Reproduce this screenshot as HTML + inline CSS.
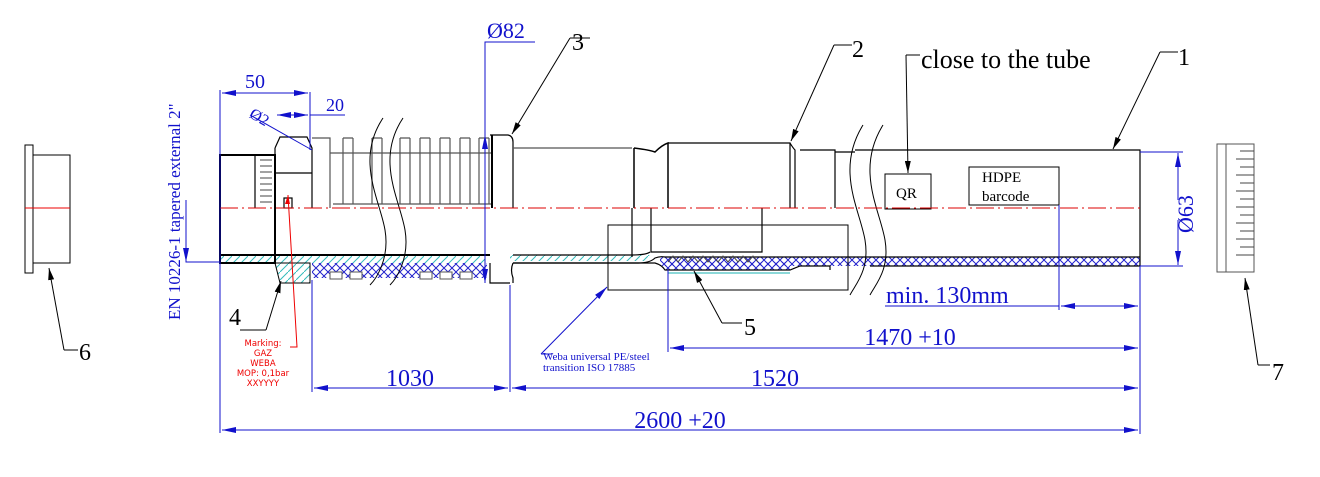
<!DOCTYPE html>
<html><head><meta charset="utf-8"><style>
html,body{margin:0;padding:0;background:#fff;}
svg{display:block;}
text{font-family:"Liberation Serif",serif;}
text.mk{font-family:"DejaVu Sans",sans-serif;}
</style></head><body>
<svg width="1320" height="477" viewBox="0 0 1320 477" xmlns="http://www.w3.org/2000/svg">
<defs>
<pattern id="xh" width="8" height="8" patternUnits="userSpaceOnUse">
<path d="M0 0L8 8M8 0L0 8" stroke="#2222cc" stroke-width="1"/>
</pattern>
<pattern id="cy" width="8" height="8" patternUnits="userSpaceOnUse">
<path d="M0 8L8 0" stroke="#33bbbb" stroke-width="1"/>
</pattern>
<marker id="ab" markerWidth="14" markerHeight="6" refX="14" refY="3" orient="auto" markerUnits="userSpaceOnUse">
<path d="M0 0L14 3L0 6z" fill="#1111cc"/></marker>
<marker id="ak" markerWidth="12" markerHeight="6" refX="12" refY="3" orient="auto" markerUnits="userSpaceOnUse">
<path d="M0 0L12 3L0 6z" fill="#000"/></marker>
</defs>

<!-- part 6 -->
<g fill="none" stroke="#000" stroke-width="1">
<rect x="25" y="145" width="8" height="128"/>
<rect x="33" y="155" width="37" height="108"/>
</g>
<line x1="25" y1="208" x2="70" y2="208" stroke="#e00" stroke-width="1"/>
<path d="M64 350H78" stroke="#000" fill="none"/>
<line x1="64" y1="350" x2="49" y2="268" stroke="#000" marker-end="url(#ak)"/>
<text x="79" y="360" font-size="24">6</text>

<!-- part 7 -->
<g fill="none" stroke="#555" stroke-width="1">
<rect x="1217" y="144" width="37" height="128"/>
<line x1="1226" y1="144" x2="1226" y2="272"/>
</g>
<g stroke="#444" stroke-width="1">
<line x1="1240" y1="151" x2="1254" y2="151"/><line x1="1236" y1="159" x2="1254" y2="159"/>
<line x1="1240" y1="167" x2="1254" y2="167"/><line x1="1236" y1="175" x2="1254" y2="175"/>
<line x1="1240" y1="183" x2="1254" y2="183"/><line x1="1236" y1="191" x2="1254" y2="191"/>
<line x1="1240" y1="199" x2="1254" y2="199"/><line x1="1236" y1="207" x2="1254" y2="207"/>
<line x1="1240" y1="215" x2="1254" y2="215"/><line x1="1236" y1="223" x2="1254" y2="223"/>
<line x1="1240" y1="231" x2="1254" y2="231"/><line x1="1236" y1="239" x2="1254" y2="239"/>
<line x1="1240" y1="247" x2="1254" y2="247"/><line x1="1236" y1="255" x2="1254" y2="255"/>
</g>
<path d="M1270 365H1258" stroke="#000" fill="none"/>
<line x1="1258" y1="365" x2="1245" y2="278" stroke="#000" marker-end="url(#ak)"/>
<text x="1272" y="380" font-size="24">7</text>

<!-- hatched bands -->
<rect x="220" y="255" width="90" height="8" fill="url(#cy)"/>
<rect x="310" y="255" width="175" height="8" fill="url(#cy)"/>
<rect x="510" y="255" width="140" height="6" fill="url(#cy)"/>
<rect x="312" y="263" width="175" height="15" fill="url(#xh)"/>
<rect x="660" y="257" width="480" height="9" fill="url(#xh)"/>
<path d="M665 262 L790 262 L790 270 L665 270Z" fill="url(#xh)"/>
<path d="M668 273H790" stroke="#66cccc" stroke-width="1.5"/>
<polygon points="275,263 310,263 310,283 280,283" fill="url(#cy)" stroke="#000"/>
<!-- corrugation notches -->
<g fill="#fff" stroke="#555">
<rect x="330" y="272" width="12" height="7"/><rect x="350" y="272" width="12" height="7"/>
<rect x="420" y="272" width="12" height="7"/><rect x="440" y="272" width="12" height="7"/><rect x="460" y="272" width="12" height="7"/>
</g>

<!-- main drawing lines -->
<g fill="none" stroke="#000" stroke-width="1.2">
<rect x="220" y="155" width="55" height="108" stroke-width="2"/>
<line x1="220" y1="255" x2="490" y2="255" stroke-width="2"/>
<line x1="220" y1="263" x2="275" y2="263" stroke-width="2"/>
<line x1="255" y1="155" x2="255" y2="208"/>
<path d="M275 148 L280 137 L307 137 L312 148 L312 208 M275 148 V208 M275 173 H312"/>
<rect x="284" y="198" width="8" height="10"/>
<path d="M312 138 H330 V208" stroke="#555"/>
<path d="M330 153 H492" stroke="#555"/>
<path d="M333 204 H492" stroke="#555"/>
<g stroke="#555">
<path d="M343 138 V204 M353 138 V204 M353 138 H343"/>
<path d="M372 138 V204 M382 138 V204 M372 138 H382"/>
<path d="M400 138 V204 M410 138 V204 M400 138 H410"/>
<path d="M420 138 V204 M430 138 V204 M420 138 H430"/>
<path d="M440 138 V204 M450 138 V204 M440 138 H450"/>
<path d="M460 138 V204 M470 138 V204 M460 138 H470"/>
<path d="M479 138 V204 M489 138 V204 M479 138 H489"/>
</g>
<path d="M490 135 H508 Q513 136 513 142 V208"/>
<path d="M492 135 V208" stroke-width="2"/>
<path d="M513 148 H632" stroke="#555"/>
<path d="M490 263 V283 H510 M513 263 Q510 270 513 278 V283 M513 263 H640"/>
<path d="M634 148 V208 M634 148 Q650 150 655 152 Q662 145 668 143 V208" stroke-width="1.5"/>
<path d="M668 143 H790 V208 M790 143 Q793 148 795 150 V208 M800 150 H835 V208 M835 152 H855"/>
<path d="M632 208 V257 M651 208 V252 H762 V208" />
<path d="M513 263 H638 Q650 263 655 258 Q660 256 665 257 H1140" />
<path d="M513 255 H632 Q646 255 650 252" />
<path d="M640 263 H655 Q662 265 665 270 H790 L800 266 H830 V270"/>
<path d="M855 150 H1140 V266 M870 266 H1140" />
<rect x="608" y="225" width="240" height="65" stroke-width="1"/>
<rect x="885" y="174" width="46" height="35" stroke-width="1"/>
<rect x="969" y="167" width="90" height="38" stroke-width="1"/>
</g>
<!-- break lines -->
<g fill="none" stroke="#000" stroke-width="1">
<path d="M383 118 C355 160 380 200 385 230 C390 260 375 280 370 285"/>
<path d="M403 118 C375 160 400 200 405 230 C410 260 395 280 390 285"/>
<path d="M863 125 C835 170 860 210 865 240 C870 270 855 285 850 295"/>
<path d="M883 125 C855 170 880 210 885 240 C890 270 875 285 870 295"/>
</g>
<!-- threads -->
<g stroke="#444" stroke-width="1" fill="none">
<path d="M260 160 H272 M260 166 H272 M260 172 H272 M260 178 H272 M260 184 H272 M260 190 H272 M260 196 H272 M260 202 H272"/>
<path d="M668 262 L673 256 L678 262 L683 256 L688 262 L693 256 L698 262 L703 256 L708 262 L713 256 L718 262 L723 256 L728 262 L733 256 L738 262 L743 256 L748 262 L753 256 L758 262"/>
</g>
<!-- centerline -->
<line x1="220" y1="208" x2="1140" y2="208" stroke="#d00" stroke-width="1" stroke-dasharray="18,4,2,4"/>

<!-- leaders -->
<g stroke="#000" fill="none" stroke-width="1">
<path d="M590 38 H570"/><line x1="570" y1="38" x2="512" y2="134" marker-end="url(#ak)"/>
<path d="M852 45 H834"/><line x1="834" y1="45" x2="791" y2="141" marker-end="url(#ak)"/>
<path d="M1178 52 H1160"/><line x1="1160" y1="52" x2="1113" y2="149" marker-end="url(#ak)"/>
<path d="M920 55 H906"/><line x1="906" y1="55" x2="908" y2="173" marker-end="url(#ak)"/>
<path d="M742 323 H722"/><line x1="722" y1="323" x2="694" y2="271" marker-end="url(#ak)"/>
<path d="M240 330 H266"/><line x1="266" y1="330" x2="281" y2="281" marker-end="url(#ak)"/>
</g>
<text x="572" y="50" font-size="24">3</text>
<text x="852" y="57" font-size="24">2</text>
<text x="1178" y="65" font-size="24">1</text>
<text x="921" y="68" font-size="26">close to the tube</text>
<text x="744" y="335" font-size="24">5</text>
<text x="229" y="325" font-size="24">4</text>
<text x="896" y="198" font-size="15">QR</text>
<text x="982" y="182" font-size="15">HDPE</text>
<text x="982" y="201" font-size="15">barcode</text>

<!-- red marking -->
<path d="M288 195 L297 347 H290" stroke="#e00" fill="none"/>
<path d="M288 195 l-3 9 l5 0z" fill="#e00"/>
<g fill="#e00" font-size="8.5" text-anchor="middle">
<text class="mk" x="263" y="346">Marking:</text>
<text class="mk" x="263" y="356">GAZ</text>
<text class="mk" x="263" y="366">WEBA</text>
<text class="mk" x="263" y="376">MOP: 0,1bar</text>
<text class="mk" x="263" y="386">XXYYYY</text>
</g>

<!-- dimensions -->
<g stroke="#1111cc" fill="none" stroke-width="1">
<line x1="220" y1="90" x2="220" y2="433"/>
<line x1="310" y1="92" x2="310" y2="150"/>
<line x1="222" y1="93" x2="308" y2="93" marker-end="url(#ab)"/>
<line x1="308" y1="93" x2="222" y2="93" marker-end="url(#ab)"/>
<line x1="310" y1="115" x2="345" y2="115"/>
<line x1="277" y1="115" x2="308" y2="115" marker-end="url(#ab)"/>
<line x1="308" y1="115" x2="277" y2="115" marker-end="url(#ab)"/>
<path d="M250 115 L312 150"/>
<path d="M535 42 H485 V283"/>
<line x1="485" y1="160" x2="485" y2="135" marker-end="url(#ab)"/>
<line x1="485" y1="260" x2="485" y2="283" marker-end="url(#ab)"/>
<path d="M186 200 V262 H220"/>
<line x1="186" y1="240" x2="186" y2="262" marker-end="url(#ab)"/>
<line x1="312" y1="280" x2="312" y2="392"/>
<line x1="510" y1="285" x2="510" y2="392"/>
<line x1="1140" y1="266" x2="1140" y2="434"/>
<line x1="314" y1="388" x2="508" y2="388" marker-end="url(#ab)"/>
<line x1="508" y1="388" x2="314" y2="388" marker-end="url(#ab)"/>
<line x1="512" y1="388" x2="1138" y2="388" marker-end="url(#ab)"/>
<line x1="1138" y1="388" x2="512" y2="388" marker-end="url(#ab)"/>
<line x1="222" y1="430" x2="1138" y2="430" marker-end="url(#ab)"/>
<line x1="1138" y1="430" x2="222" y2="430" marker-end="url(#ab)"/>
<line x1="668" y1="270" x2="668" y2="352"/>
<line x1="670" y1="348" x2="1138" y2="348" marker-end="url(#ab)"/>
<line x1="1138" y1="348" x2="670" y2="348" marker-end="url(#ab)"/>
<line x1="1059" y1="205" x2="1059" y2="310"/>
<path d="M885 306 H1059"/>
<line x1="1061" y1="306" x2="1138" y2="306" marker-end="url(#ab)"/>
<line x1="1138" y1="306" x2="1061" y2="306" marker-end="url(#ab)"/>
<path d="M1140 152 H1183 M1140 266 H1183"/>
<line x1="1178" y1="200" x2="1178" y2="153" marker-end="url(#ab)"/>
<line x1="1178" y1="220" x2="1178" y2="265" marker-end="url(#ab)"/>
<path d="M552 354 H541"/>
<line x1="541" y1="354" x2="607" y2="287" marker-end="url(#ab)"/>
</g>
<g fill="#1111cc">
<text x="255" y="88" font-size="20" text-anchor="middle">50</text>
<text x="335" y="111" font-size="18" text-anchor="middle">20</text>
<text x="248" y="122" font-size="16" transform="rotate(30 258 120)">Ø2</text>
<text x="487" y="38" font-size="22">Ø82</text>
<text x="410" y="386" font-size="24" text-anchor="middle">1030</text>
<text x="775" y="386" font-size="24" text-anchor="middle">1520</text>
<text x="680" y="428" font-size="24" text-anchor="middle">2600 +20</text>
<text x="910" y="345" font-size="24" text-anchor="middle">1470 +10</text>
<text x="886" y="303" font-size="24">min. 130mm</text>
<text x="543" y="360" font-size="11">Weba universal PE/steel</text>
<text x="543" y="371" font-size="11">transition ISO 17885</text>
<text font-size="22" transform="translate(1193 233) rotate(-90)">Ø63</text>
<text font-size="17" transform="translate(180 320) rotate(-90)">EN 10226-1  tapered external 2"</text>
</g>
</svg>
</body></html>
